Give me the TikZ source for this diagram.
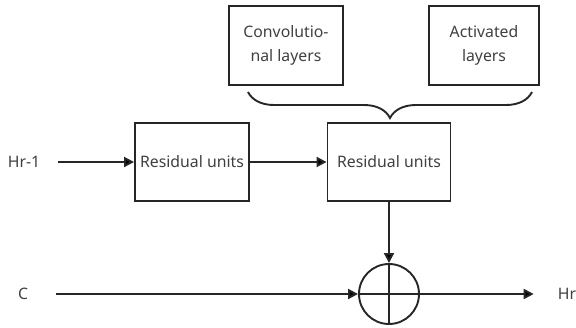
\documentclass[tikz,border=0pt]{standalone}
\usepackage{fontspec}
\setmainfont{Noto Sans}
\usetikzlibrary{arrows.meta,decorations.pathreplacing}

\begin{document}
\begin{tikzpicture}[
        x=1pt, y=-1pt,
        every node/.style={text=black!75, font=\fontsize{15.8}{24}\selectfont},
        box/.style={draw=black!85, line width=1.9pt, align=center, inner sep=0pt},
        lbl/.style={inner sep=0pt},
        ar/.style={-{Triangle[length=10pt,width=10pt]}, line width=1.9pt, draw=black!85},
        sumnode/.style={draw=black!85, line width=1.9pt, circle, minimum size=60pt, inner sep=0pt,
            path picture={
                \draw[line width=1.9pt, black!85]
                (path picture bounding box.north) -- (path picture bounding box.south)
                (path picture bounding box.west) -- (path picture bounding box.east);
            }},
        brc/.style={decorate, decoration={brace, amplitude=26pt}, line width=1.9pt, draw=black!85},
    ]
    \useasboundingbox (0,0) rectangle (576,327);

    \node[box, minimum width=114pt, minimum height=79pt](conv) at (286,45.5) {Convolutio-\\nal layers};
    \node[box, minimum width=110pt, minimum height=79pt](act) at (484,45.5) {Activated\\layers};
    \node[box, minimum width=114pt, minimum height=78pt](res1) at (192,162) {Residual units};
    \node[box, minimum width=123pt, minimum height=78pt](res2) at (389,162) {Residual units};
    \node[sumnode](sum) at (389,294) {};

    \node[lbl](hin) at (24,162) {Hr-1};
    \node[lbl](cin) at (23,294) {C};
    \node[lbl](hout) at (567,294) {Hr};

    \draw[brc] (532,92) -- (248,92);

    \path[ar]
    (hin) edge[shorten <=18pt] (res1)
    (res1) edge (res2)
    (res2) edge (sum)
    (cin) edge[shorten <=28pt] (sum)
    (sum) edge[shorten >=24pt] (hout)
    ;
\end{tikzpicture}
\end{document}
